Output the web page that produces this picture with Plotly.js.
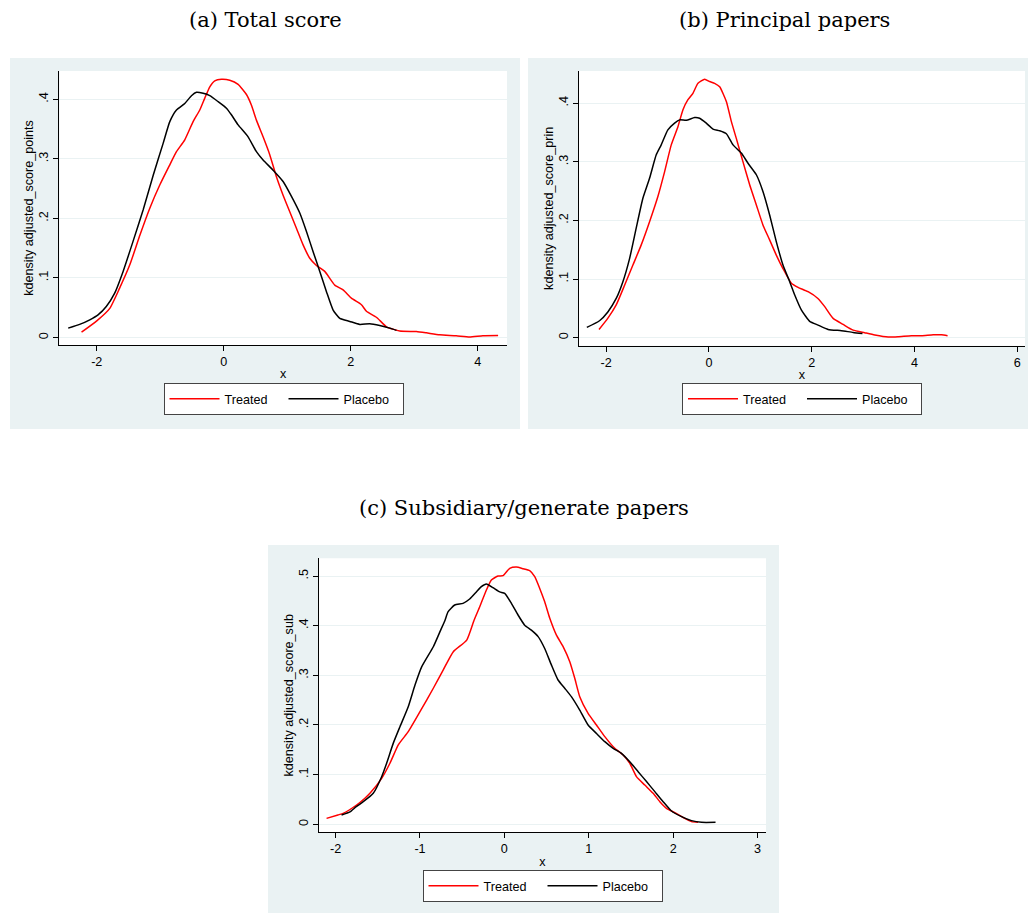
<!DOCTYPE html>
<html>
<head>
<meta charset="utf-8">
<script src="https://cdn.plot.ly/plotly-3.0.1.min.js"></script>
<style>html,body{margin:0;padding:0;background:#fff;}#chart{width:1029px;height:913px;}</style>
</head>
<body>
<div id="chart"></div>
<script>
// ---------- Data ----------
const panelTitles = ["(a) Total score", "(b) Principal papers", "(c) Subsidiary/generate papers"];
const yTitles = ["kdensity adjusted_score_points", "kdensity adjusted_score_prin", "kdensity adjusted_score_sub"];
const seriesNames = ["Treated", "Placebo"];

// Panel (a) Total score
const aTreatedX = [-2.24,-2.0,-1.795,-1.64,-1.48,-1.32,-1.165,-1.008,-0.85,-0.745,-0.614,-0.483,-0.378,-0.299,-0.22,-0.142,-0.037,0.094,0.226,0.357,0.436,0.514,0.619,0.724,0.829,0.934,1.039,1.144,1.249,1.354,1.459,1.59,1.748,1.879,2.01,2.168,2.247,2.404,2.562,2.772,3.034,3.19,3.40,3.66,3.87,4.08,4.32];
const aTreatedY = [0.009,0.028,0.049,0.083,0.122,0.172,0.217,0.256,0.29,0.312,0.332,0.3625,0.382,0.402,0.421,0.431,0.4336,0.432,0.425,0.408,0.39,0.365,0.337,0.307,0.27,0.239,0.211,0.1835,0.1555,0.133,0.121,0.111,0.088,0.08,0.066,0.055,0.044,0.034,0.018,0.011,0.010,0.0078,0.0045,0.003,0.001,0.003,0.0034];
const aPlaceboX = [-2.45,-2.27,-2.11,-1.98,-1.85,-1.72,-1.585,-1.43,-1.27,-1.11,-0.955,-0.85,-0.745,-0.614,-0.509,-0.43,-0.325,-0.22,-0.089,0.042,0.12,0.226,0.383,0.514,0.619,0.777,0.934,1.066,1.197,1.302,1.407,1.512,1.617,1.722,1.827,1.984,2.142,2.299,2.456,2.614,2.72];
const aPlaceboY = [0.0157,0.022,0.0297,0.038,0.052,0.074,0.111,0.161,0.214,0.273,0.326,0.3625,0.382,0.393,0.406,0.4117,0.41,0.406,0.396,0.385,0.374,0.357,0.337,0.312,0.298,0.281,0.262,0.237,0.209,0.178,0.144,0.111,0.077,0.046,0.032,0.027,0.022,0.023,0.020,0.0157,0.012];

// Panel (b) Principal papers
const bTreatedX = [-2.14,-1.97,-1.805,-1.64,-1.48,-1.32,-1.156,-0.994,-0.864,-0.734,-0.604,-0.506,-0.409,-0.312,-0.214,-0.084,0.013,0.11,0.208,0.338,0.435,0.532,0.662,0.792,0.922,1.052,1.18,1.31,1.44,1.604,1.734,1.929,2.12,2.253,2.416,2.61,2.805,3.03,3.227,3.487,3.68,3.94,4.136,4.364,4.526,4.643];
const bTreatedY = [0.014,0.033,0.056,0.09,0.124,0.158,0.198,0.241,0.283,0.329,0.36,0.389,0.406,0.417,0.434,0.441,0.437,0.434,0.428,0.403,0.369,0.34,0.30,0.261,0.2265,0.192,0.167,0.141,0.118,0.093,0.086,0.0785,0.067,0.053,0.033,0.0228,0.013,0.0085,0.0046,0.0011,0.0017,0.0034,0.0034,0.005,0.005,0.0034];
const bPlaceboX = [-2.377,-2.13,-1.968,-1.805,-1.675,-1.545,-1.416,-1.286,-1.156,-1.026,-0.929,-0.80,-0.669,-0.571,-0.44,-0.279,-0.182,-0.052,0.078,0.208,0.338,0.468,0.63,0.76,0.922,1.052,1.182,1.31,1.44,1.571,1.669,1.8,1.96,2.123,2.318,2.578,2.805,2.987];
const bPlaceboY = [0.0176,0.029,0.044,0.067,0.0956,0.135,0.187,0.238,0.272,0.312,0.329,0.3545,0.366,0.3716,0.371,0.3755,0.3744,0.366,0.356,0.353,0.348,0.329,0.315,0.2976,0.278,0.249,0.209,0.164,0.124,0.0956,0.0728,0.047,0.028,0.0216,0.0142,0.012,0.0091,0.0074];

// Panel (c) Subsidiary/generate papers
const cTreatedX = [-2.107,-1.972,-1.91,-1.751,-1.656,-1.593,-1.454,-1.356,-1.257,-1.139,-1.0,-0.842,-0.724,-0.605,-0.446,-0.359,-0.292,-0.213,-0.154,-0.075,-0.016,0.063,0.142,0.221,0.30,0.36,0.419,0.478,0.538,0.617,0.696,0.775,0.834,0.893,0.992,1.091,1.19,1.308,1.407,1.486,1.565,1.664,1.763,1.842,1.921,2.02,2.119,2.217,2.296];
const cTreatedY = [0.012,0.0188,0.022,0.0389,0.052,0.0624,0.0926,0.123,0.16,0.1865,0.2268,0.274,0.311,0.3476,0.371,0.411,0.438,0.4718,0.492,0.5,0.5007,0.5154,0.518,0.5148,0.511,0.4987,0.475,0.448,0.415,0.381,0.358,0.3275,0.294,0.257,0.2235,0.2,0.1765,0.153,0.1396,0.123,0.096,0.079,0.0624,0.0456,0.0322,0.0235,0.0134,0.0054,0.004];
const cPlaceboX = [-1.929,-1.83,-1.755,-1.672,-1.554,-1.454,-1.395,-1.317,-1.237,-1.139,-1.059,-0.98,-0.842,-0.763,-0.703,-0.668,-0.589,-0.49,-0.411,-0.332,-0.273,-0.213,-0.134,-0.055,0.004,0.083,0.162,0.241,0.32,0.40,0.478,0.557,0.636,0.715,0.794,0.893,0.992,1.091,1.19,1.289,1.387,1.486,1.585,1.684,1.783,1.881,1.98,2.099,2.217,2.336,2.502];
const cPlaceboY = [0.0187,0.025,0.0356,0.0455,0.0624,0.0959,0.123,0.163,0.1966,0.2368,0.2805,0.317,0.3576,0.388,0.411,0.428,0.4416,0.445,0.4537,0.468,0.4785,0.484,0.4765,0.468,0.465,0.445,0.4215,0.401,0.391,0.378,0.354,0.321,0.2906,0.274,0.257,0.230,0.2,0.183,0.1664,0.153,0.143,0.126,0.106,0.086,0.0658,0.0456,0.0268,0.0154,0.0074,0.004,0.004];

// Tick values and labels
const abYTickVals = [0, 0.1, 0.2, 0.3, 0.4];
const abYTickText = ["0", ".1", ".2", ".3", ".4"];
const cYTickVals = [0, 0.1, 0.2, 0.3, 0.4, 0.5];
const cYTickText = ["0", ".1", ".2", ".3", ".4", ".5"];
const aXTicks = [-2, 0, 2, 4];
const bXTicks = [-2, 0, 2, 4, 6];
const cXTicks = [-2, -1, 0, 1, 2, 3];

// ---------- Layout ----------
const W = 1029, H = 913;
const px = v => v / W;
const py = v => 1 - v / H;
const SANS = "Liberation Sans, Arial, sans-serif";
const SERIF = "DejaVu Serif, serif";
const FS = 12.6;
const BG = "#eaf2f3";

function line(x, y, name, color, xa, ya, leg) {
  return {x: x, y: y, name: name, type: "scatter", mode: "lines",
    line: {color: color, width: 1.5, shape: "spline", smoothing: 0.5},
    xaxis: xa, yaxis: ya, legend: leg, showlegend: true, hoverinfo: "skip"};
}

const traces = [
  line(aTreatedX, aTreatedY, seriesNames[0], "#ff0000", "x", "y", "legend"),
  line(aPlaceboX, aPlaceboY, seriesNames[1], "#000000", "x", "y", "legend"),
  line(bTreatedX, bTreatedY, seriesNames[0], "#ff0000", "x2", "y2", "legend2"),
  line(bPlaceboX, bPlaceboY, seriesNames[1], "#000000", "x2", "y2", "legend2"),
  line(cTreatedX, cTreatedY, seriesNames[0], "#ff0000", "x3", "y3", "legend3"),
  line(cPlaceboX, cPlaceboY, seriesNames[1], "#000000", "x3", "y3", "legend3")
];

function xax(domain, range, ticks, anchor) {
  return {domain: domain, range: range, anchor: anchor, tickvals: ticks,
    ticktext: ticks.map(String), showline: true, linecolor: "#000", linewidth: 1,
    ticks: "outside", ticklen: 5, tickcolor: "#000", showgrid: false, zeroline: false,
    tickfont: {family: SANS, size: FS, color: "#000"},
    title: {text: "x", font: {family: SANS, size: FS, color: "#000"}, standoff: 1}};
}
function yax(domain, range, vals, text, anchor, title) {
  return {domain: domain, range: range, anchor: anchor, tickvals: vals, ticktext: text,
    tickangle: -90, showline: true, linecolor: "#000", linewidth: 1,
    ticks: "outside", ticklen: 5, tickcolor: "#000", showgrid: true, gridcolor: BG, gridwidth: 1,
    zeroline: false, tickfont: {family: SANS, size: FS, color: "#000"},
    title: {text: title, font: {family: SANS, size: FS, color: "#000"}, standoff: 0}};
}

function legendAt(cx, cy) {
  return {orientation: "h", x: px(cx), xanchor: "center", y: py(cy), yanchor: "middle",
    bgcolor: "#fff", bordercolor: "#444", borderwidth: 1, itemwidth: 50, entrywidth: 54,
    font: {family: SANS, size: FS, color: "#000"}, itemclick: false, itemdoubleclick: false};
}

const layout = {
  width: W, height: H, margin: {l: 0, r: 0, t: 0, b: 0},
  paper_bgcolor: "#fff", plot_bgcolor: "#fff",
  xaxis: xax([px(59.3), px(507)], [-2.59, 4.46], aXTicks, "y"),
  yaxis: yax([py(345), py(71)], [-0.0126, 0.4475], abYTickVals, abYTickText, "x", yTitles[0]),
  xaxis2: xax([px(578.7), px(1025)], [-2.535, 6.15], bXTicks, "y2"),
  yaxis2: yax([py(345.7), py(71)], [-0.0136, 0.455], abYTickVals, abYTickText, "x2", yTitles[1]),
  xaxis3: xax([px(318.7), px(766)], [-2.20, 3.10], cXTicks, "y3"),
  yaxis3: yax([py(832.3), py(558.3)], [-0.0161, 0.5357], cYTickVals, cYTickText, "x3", yTitles[2]),
  legend: legendAt(283.5, 399),
  legend2: legendAt(802, 399),
  legend3: legendAt(542.5, 886),
  shapes: [
    {type: "rect", xref: "paper", yref: "paper", x0: px(10), x1: px(520), y0: py(429), y1: py(58), fillcolor: BG, line: {width: 0}, layer: "below"},
    {type: "rect", xref: "paper", yref: "paper", x0: px(528), x1: px(1028), y0: py(429), y1: py(58), fillcolor: BG, line: {width: 0}, layer: "below"},
    {type: "rect", xref: "paper", yref: "paper", x0: px(268), x1: px(779), y0: py(913), y1: py(545), fillcolor: BG, line: {width: 0}, layer: "below"},
    {type: "rect", xref: "paper", yref: "paper", x0: px(59.3), x1: px(507), y0: py(345), y1: py(71), fillcolor: "#fff", line: {width: 0}, layer: "below"},
    {type: "rect", xref: "paper", yref: "paper", x0: px(578.7), x1: px(1025), y0: py(345.7), y1: py(71), fillcolor: "#fff", line: {width: 0}, layer: "below"},
    {type: "rect", xref: "paper", yref: "paper", x0: px(318.7), x1: px(766), y0: py(832.3), y1: py(558.3), fillcolor: "#fff", line: {width: 0}, layer: "below"}
  ],
  annotations: [
    {text: panelTitles[0], xref: "paper", yref: "paper", x: px(265.5), y: py(20), xanchor: "center", yanchor: "middle", showarrow: false, font: {family: SERIF, size: 21, color: "#000"}},
    {text: panelTitles[1], xref: "paper", yref: "paper", x: px(784), y: py(20), xanchor: "center", yanchor: "middle", showarrow: false, font: {family: SERIF, size: 21, color: "#000"}},
    {text: panelTitles[2], xref: "paper", yref: "paper", x: px(524), y: py(508), xanchor: "center", yanchor: "middle", showarrow: false, font: {family: SERIF, size: 21, color: "#000"}}
  ]
};

Plotly.newPlot("chart", traces, layout, {staticPlot: true, displayModeBar: false});
</script>
</body>
</html>
